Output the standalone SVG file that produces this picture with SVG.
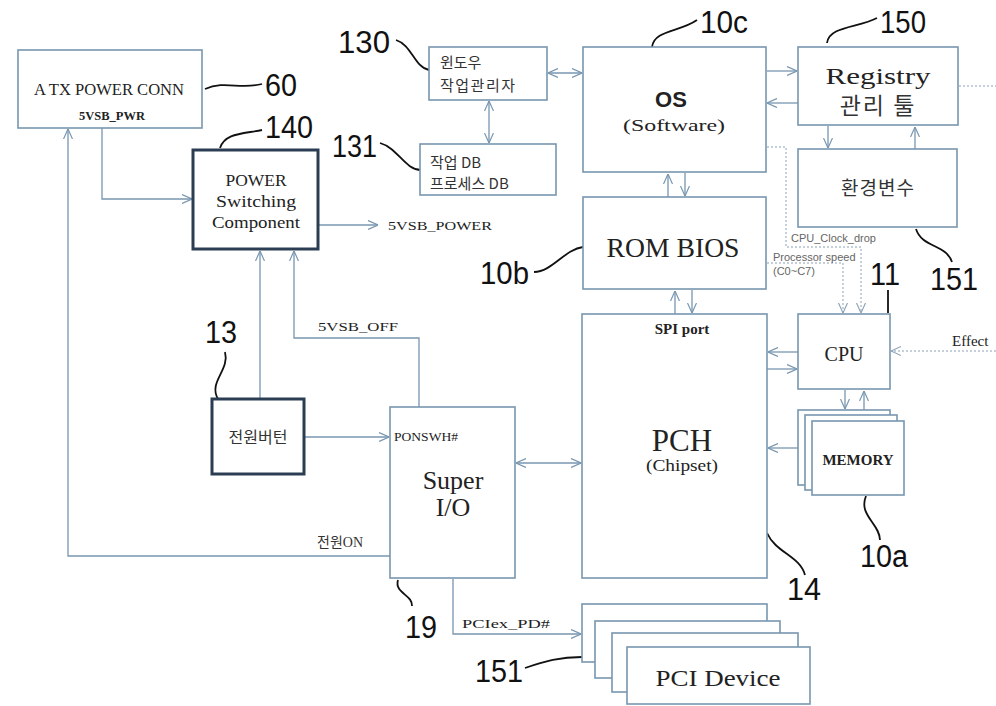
<svg xmlns="http://www.w3.org/2000/svg" width="996" height="706" viewBox="0 0 996 706">
<style>
.box{fill:#fff;stroke:#7896b0;stroke-width:1.6}
.thick{fill:#fff;stroke:#2b3d52;stroke-width:3}
.ln{fill:none;stroke:#7896b0;stroke-width:1.3}
.dash{fill:none;stroke:#8aa0b4;stroke-width:1;stroke-dasharray:2,2}
.lead{fill:none;stroke:#111;stroke-width:1.8}
.num{font-family:"Liberation Sans",Arial,sans-serif;font-size:31px;fill:#111}
.ser{font-family:"Liberation Serif","Times New Roman",serif;fill:#222}
.kr{font-family:"Noto Sans CJK KR",sans-serif;fill:#333}
.sm{font-family:"Liberation Sans",Arial,sans-serif;font-size:11px;fill:#666}
</style>
<defs>
<marker id="a" viewBox="0 0 10 10" refX="10" refY="5" markerWidth="10" markerHeight="10" orient="auto-start-reverse" markerUnits="userSpaceOnUse">
<path d="M0,0.5 L10,5 L0,9.5" fill="none" stroke="#7896b0" stroke-width="1.2"/>
</marker>
<marker id="d" viewBox="0 0 10 10" refX="10" refY="5" markerWidth="10" markerHeight="10" orient="auto-start-reverse" markerUnits="userSpaceOnUse">
<path d="M0,0.5 L10,5 L0,9.5" fill="none" stroke="#8aa0b4" stroke-width="1.1"/>
</marker>
</defs>
<rect width="996" height="706" fill="#fff"/>

<g id="connectors">
<path class="ln" d="M390,556 H68 V129" marker-end="url(#a)"/>
<path class="ln" d="M102,128 V199 H192" marker-end="url(#a)"/>
<path class="ln" d="M319,225 H378" marker-end="url(#a)"/>
<path class="ln" d="M260,398 V251" marker-end="url(#a)"/>
<path class="ln" d="M419,407 V338 H294 V251" marker-end="url(#a)"/>
<path class="ln" d="M305,437 H389" marker-end="url(#a)"/>
<path class="ln" d="M516,463 H581" marker-start="url(#a)" marker-end="url(#a)"/>
<path class="ln" d="M453,579 V634 H581" marker-end="url(#a)"/>
<path class="ln" d="M548,73 H582" marker-start="url(#a)" marker-end="url(#a)"/>
<path class="ln" d="M489,101 V143" marker-start="url(#a)" marker-end="url(#a)"/>
<path class="ln" d="M767,71 H797" marker-end="url(#a)"/>
<path class="ln" d="M798,103 H767" marker-end="url(#a)"/>
<path class="ln" d="M828,126 V148" marker-end="url(#a)"/>
<path class="ln" d="M915,149 V127" marker-end="url(#a)"/>
<path class="ln" d="M668,197 V174" marker-end="url(#a)"/>
<path class="ln" d="M685,173 V196" marker-end="url(#a)"/>
<path class="ln" d="M675,314 V291" marker-end="url(#a)"/>
<path class="ln" d="M692,290 V313" marker-end="url(#a)"/>
<path class="ln" d="M798,352 H768" marker-end="url(#a)"/>
<path class="ln" d="M767,369 H797" marker-end="url(#a)"/>
<path class="ln" d="M845,390 V409" marker-end="url(#a)"/>
<path class="ln" d="M864,410 V391" marker-end="url(#a)"/>
<path class="ln" d="M798,448 H768" marker-end="url(#a)"/>
<path class="dash" d="M767,147 H786 V247 H861 V313" marker-end="url(#d)"/>
<path class="dash" d="M767,263 H843 V313" marker-end="url(#d)"/>
<path class="dash" d="M996,351 H891" marker-end="url(#d)"/>
<path class="dash" d="M959,86 H996"/>
</g>

<g id="leaders">
<path class="lead" d="M205,89 C225,80 240,90 262,84"/>
<path class="lead" d="M220,148 C225,133 242,134 262,130"/>
<path class="lead" d="M380,143 C398,148 405,170 421,170"/>
<path class="lead" d="M396,40 C412,45 414,67 429,70"/>
<path class="lead" d="M652,47 C654,30 680,32 697,20"/>
<path class="lead" d="M827,43 C829,26 858,28 877,18"/>
<path class="lead" d="M534,272 C552,272 565,249 583,247"/>
<path class="lead" d="M916,229 C922,248 946,244 952,262"/>
<path class="lead" d="M888,313 V290"/>
<path class="lead" d="M866,496 C858,515 880,524 880,540"/>
<path class="lead" d="M767,533 C776,553 800,556 805,575"/>
<path class="lead" d="M218,399 C208,382 230,370 225,352"/>
<path class="lead" d="M398,580 C394,593 413,595 412,606"/>
<path class="lead" d="M525,668 C545,661 560,657 582,657"/>
</g>

<g id="labels">
<text class="num" x="265" y="96" textLength="32" lengthAdjust="spacingAndGlyphs">60</text>
<text class="num" x="265" y="138" textLength="48" lengthAdjust="spacingAndGlyphs">140</text>
<text class="num" x="332" y="157" textLength="45" lengthAdjust="spacingAndGlyphs">131</text>
<text class="num" x="338" y="53" textLength="52" lengthAdjust="spacingAndGlyphs">130</text>
<text class="num" x="700" y="33" textLength="48" lengthAdjust="spacingAndGlyphs">10c</text>
<text class="num" x="880" y="33" textLength="46" lengthAdjust="spacingAndGlyphs">150</text>
<text class="num" x="480" y="284" textLength="49" lengthAdjust="spacingAndGlyphs">10b</text>
<text class="num" x="930" y="290" textLength="48" lengthAdjust="spacingAndGlyphs">151</text>
<text class="num" x="870" y="285" textLength="30" lengthAdjust="spacingAndGlyphs">11</text>
<text class="num" x="205" y="343" textLength="32" lengthAdjust="spacingAndGlyphs">13</text>
<text class="num" x="860" y="567" textLength="48" lengthAdjust="spacingAndGlyphs">10a</text>
<text class="num" x="787" y="600" textLength="34" lengthAdjust="spacingAndGlyphs">14</text>
<text class="num" x="405" y="638" textLength="32" lengthAdjust="spacingAndGlyphs">19</text>
<text class="num" x="475" y="682" textLength="48" lengthAdjust="spacingAndGlyphs">151</text>
</g>

<g id="atx">
<rect class="box" x="18" y="50" width="184" height="78"/>
<text class="ser" x="109" y="95" font-size="17" text-anchor="middle" textLength="150" lengthAdjust="spacingAndGlyphs">A TX POWER CONN</text>
<text class="ser" x="112" y="120" font-size="11.5" font-weight="bold" text-anchor="middle" textLength="66" lengthAdjust="spacingAndGlyphs">5VSB_PWR</text>
</g>

<g id="power-switch">
<rect class="thick" x="193" y="150" width="125" height="99"/>
<text class="ser" x="256" y="186" font-size="17" text-anchor="middle" textLength="61" lengthAdjust="spacingAndGlyphs">POWER</text>
<text class="ser" x="256" y="207" font-size="17" text-anchor="middle" textLength="80" lengthAdjust="spacingAndGlyphs">Switching</text>
<text class="ser" x="256" y="228" font-size="17" text-anchor="middle" textLength="88" lengthAdjust="spacingAndGlyphs">Component</text>
</g>
<text class="ser" x="388" y="230" font-size="13" textLength="104" lengthAdjust="spacingAndGlyphs">5VSB_POWER</text>

<g id="win-task">
<rect class="box" x="429" y="47" width="118" height="53"/>
<text class="kr" x="440" y="68" font-size="15">윈도우</text>
<text class="kr" x="440" y="91" font-size="15" letter-spacing="1.5">작업관리자</text>
</g>

<g id="task-db">
<rect class="box" x="420" y="144" width="136" height="51"/>
<text class="kr" x="430" y="168" font-size="15">작업 DB</text>
<text class="kr" x="430" y="189" font-size="15">프로세스 DB</text>
</g>

<g id="os">
<rect class="box" x="583" y="47" width="183" height="125"/>
<text x="671" y="107" font-family="Liberation Sans,Arial,sans-serif" font-weight="bold" font-size="22" fill="#222" text-anchor="middle">OS</text>
<text class="ser" x="674" y="131" font-size="17" text-anchor="middle" fill="#444" textLength="102" lengthAdjust="spacingAndGlyphs">(Software)</text>
</g>

<g id="registry">
<rect class="box" x="798" y="47" width="160" height="78"/>
<text class="ser" x="878" y="84" font-size="24" text-anchor="middle" fill="#333" textLength="105" lengthAdjust="spacingAndGlyphs">Registry</text>
<text class="kr" x="878" y="114" font-size="23" text-anchor="middle" letter-spacing="2">관리 툴</text>
</g>

<g id="env">
<rect class="box" x="798" y="149" width="159" height="78"/>
<text class="kr" x="878" y="195" font-size="19" text-anchor="middle" letter-spacing="1">환경변수</text>
</g>

<g id="rombios">
<rect class="box" x="583" y="197" width="183" height="92"/>
<text class="ser" x="673" y="257" font-size="27" text-anchor="middle" textLength="133" lengthAdjust="spacingAndGlyphs">ROM BIOS</text>
</g>
<text class="sm" x="791" y="242">CPU_Clock_drop</text>
<text class="sm" x="773" y="261">Processor  speed</text>
<text class="sm" x="773" y="275">(C0~C7)</text>

<g id="pch">
<rect class="box" x="582" y="314" width="185" height="264"/>
<text class="ser" x="682" y="334" font-size="15" font-weight="bold" text-anchor="middle">SPI port</text>
<text class="ser" x="682" y="451" font-size="31" text-anchor="middle">PCH</text>
<text class="ser" x="682" y="471" font-size="16" text-anchor="middle" fill="#444" textLength="72" lengthAdjust="spacingAndGlyphs">(Chipset)</text>
</g>

<g id="cpu">
<rect class="box" x="798" y="314" width="92" height="75"/>
<text class="ser" x="844" y="361" font-size="20" text-anchor="middle">CPU</text>
</g>
<text class="ser" x="952" y="346" font-size="15" fill="#555">Effect</text>

<g id="memory">
<rect class="box" x="798" y="410" width="92" height="75"/>
<rect class="box" x="805" y="415" width="92" height="75"/>
<rect class="box" x="812" y="421" width="92" height="74"/>
<text class="ser" x="858" y="465" font-size="15" font-weight="bold" text-anchor="middle">MEMORY</text>
</g>

<g id="power-button">
<rect class="thick" x="212" y="399" width="92" height="75"/>
<text class="kr" x="258" y="443" font-size="16" text-anchor="middle">전원버턴</text>
</g>

<g id="super-io">
<rect class="box" x="390" y="407" width="125" height="171"/>
<text class="ser" x="394" y="441" font-size="12" textLength="64" lengthAdjust="spacingAndGlyphs">PONSWH#</text>
<text class="ser" x="453" y="489" font-size="26" text-anchor="middle">Super</text>
<text class="ser" x="453" y="516" font-size="26" text-anchor="middle">I/O</text>
</g>
<text class="ser" x="318" y="331" font-size="13" textLength="80" lengthAdjust="spacingAndGlyphs">5VSB_OFF</text>
<text class="kr" x="317" y="547" font-size="14">전원<tspan font-family="Liberation Serif,serif">ON</tspan></text>
<text class="ser" x="462" y="628" font-size="13" textLength="88" lengthAdjust="spacingAndGlyphs">PCIex_PD#</text>

<g id="pci-device">
<rect class="box" x="582" y="604" width="185" height="58"/>
<rect class="box" x="595" y="621" width="185" height="57"/>
<rect class="box" x="612" y="633" width="186" height="59"/>
<rect class="box" x="627" y="647" width="183" height="57"/>
<text class="ser" x="718" y="686" font-size="23" text-anchor="middle" fill="#333" textLength="125" lengthAdjust="spacingAndGlyphs">PCI Device</text>
</g>
</svg>
